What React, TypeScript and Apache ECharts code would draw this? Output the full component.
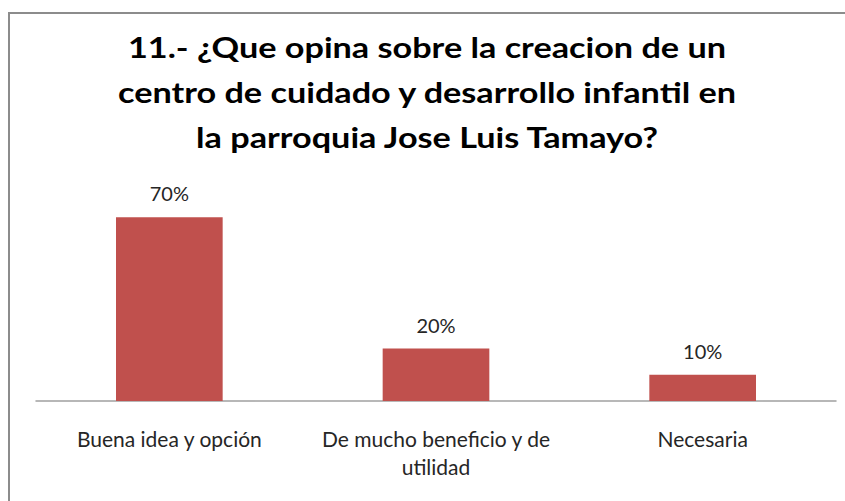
import React, { useEffect, useRef } from "react";
import * as echarts from "echarts";

const titleLines = [
  "11.- ¿Que opina sobre la creacion de un",
  "centro de cuidado y desarrollo infantil en",
  "la parroquia Jose Luis Tamayo?",
];
const categories = [
  "Buena idea y opción",
  "De mucho beneficio y de\nutilidad",
  "Necesaria",
];
const percentValues = [70, 20, 10];

export default function App() {
  const ref = useRef<HTMLDivElement>(null);
  useEffect(() => {
    if (!ref.current) return;
    const chart = echarts.init(ref.current, undefined, { renderer: "svg" });
    chart.setOption({
      animation: false,
      backgroundColor: "#ffffff",
      graphic: [
        {
          type: "rect",
          shape: { x: 9, y: 13, width: 900, height: 600 },
          style: { fill: "none", stroke: "#8c8c8c", lineWidth: 2 },
          silent: true,
        },
        {
          type: "text",
          x: 427,
          y: 25,
          scaleX: 1.18,
          silent: true,
          style: {
            text: titleLines.join("\n"),
            font: "bold 29px Lato",
            lineHeight: 45,
            align: "center",
            verticalAlign: "top",
            fill: "#000000",
          },
        },
      ],
      grid: { left: 36, right: 9, top: 191, bottom: 100, containLabel: false },
      xAxis: {
        type: "category",
        data: categories,
        axisLine: { show: true, lineStyle: { color: "#a0a0a0", width: 1.5 } },
        axisTick: { show: false },
        axisLabel: {
          fontFamily: "Lato",
          fontSize: 21,
          color: "#262626",
          lineHeight: 28,
          margin: 23,
          interval: 0,
        },
      },
      yAxis: {
        type: "value",
        min: 0,
        max: 80,
        show: false,
        splitLine: { show: false },
      },
      series: [
        {
          type: "bar",
          data: percentValues,
          barCategoryGap: "60%",
          itemStyle: { color: "#c0504d" },
          label: {
            show: true,
            position: "top",
            distance: 14,
            formatter: "{c}%",
            fontFamily: "Lato",
            fontSize: 20,
            color: "#262626",
          },
        },
      ],
    });
    return () => chart.dispose();
  }, []);
  return (
    <div
      ref={ref}
      style={{ position: "fixed", left: 0, top: 0, width: 845, height: 501 }}
    />
  );
}
